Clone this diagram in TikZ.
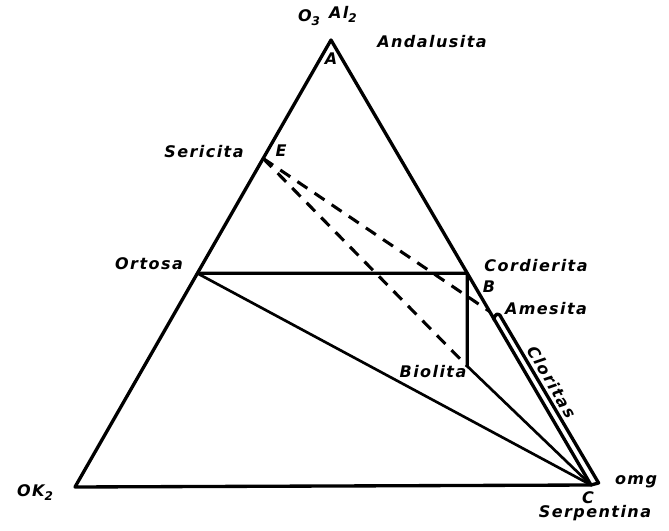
\documentclass[tikz,border=0pt]{standalone}
\usepackage{fontspec}
\setmainfont{DejaVu Sans}[LetterSpace=9]
\usetikzlibrary{calc}
\newcommand{\lowsub}[1]{\raisebox{-0.45ex}{\fontsize{9}{10}\selectfont #1}}
\begin{document}
\begin{tikzpicture}[x=0.75pt,y=-0.75pt,
  edge/.style={line width=2.5pt, line cap=round, line join=round},
  thinedge/.style={line width=2pt, line cap=round},
  dashedge/.style={line width=2.3pt, dash pattern=on 9pt off 6.5pt},
  lbl/.style={font=\bfseries\itshape\fontsize{12}{14}\selectfont, inner sep=0pt}]
\useasboundingbox (0,0) rectangle (669,531);
% vertices
\coordinate (A) at (331,40);
\coordinate (L) at (75,487);
\coordinate (C) at (591,485);
\coordinate (O) at ($(A)!0.522!(L)$);
\coordinate (B) at ($(A)!0.524!(C)$);
\coordinate (E) at ($(A)!0.265!(L)$);
\coordinate (M) at ($(A)!0.61!(C)$);
\coordinate (Bi) at ($(B)+(0,93)$);
\coordinate (K1) at (494,320);
\coordinate (K2) at (501.5,318);
\coordinate (K3) at (598.6,483);
% triangle
\draw[edge] (A) -- (L) -- (C) -- cycle;
% ortosa - cordierita - biolita
\draw[edge] (O) -- (B) -- (Bi);
\draw[thinedge] (Bi) -- (C);
\draw[thinedge] (O) -- (C);
% cloritas band
\draw[edge] (K1) .. controls (494.5,313) and (499,312) .. (K2) -- (K3) -- (C);
% dashed lines from E
\draw[dashedge] (E) -- (M);
\draw[dashedge] (E) -- (Bi);
% labels
\node[lbl] (lO3) at (309,18) {O\lowsub{3}};
\node[lbl] (lAl) at (343,14) {Al\lowsub{2}};
\node[lbl] (lA) at (331,59) {A};
\node[lbl] (lAnd) at (432,42) {Andalusita};
\node[lbl] (lSer) at (204,152) {Sericita};
\node[lbl] (lE) at (281,151) {E};
\node[lbl] (lOrt) at (149,264) {Ortosa};
\node[lbl] (lCor) at (536,266) {Cordierita};
\node[lbl] (lB) at (489,287) {B};
\node[lbl] (lAme) at (546,309) {Amesita};
\node[lbl, rotate=-59.7] (lClo) at (552,382) {Cloritas};
\node[lbl] (lBio) at (433,372) {Biolita};
\node[lbl] (lOK) at (35,493) {OK\lowsub{2}};
\node[lbl] (lC) at (588,498) {C};
\node[lbl] (lOMg) at (636,482) {omg};
\node[lbl] (lSerp) at (595,513) {Serpentina};
\end{tikzpicture}
\end{document}
